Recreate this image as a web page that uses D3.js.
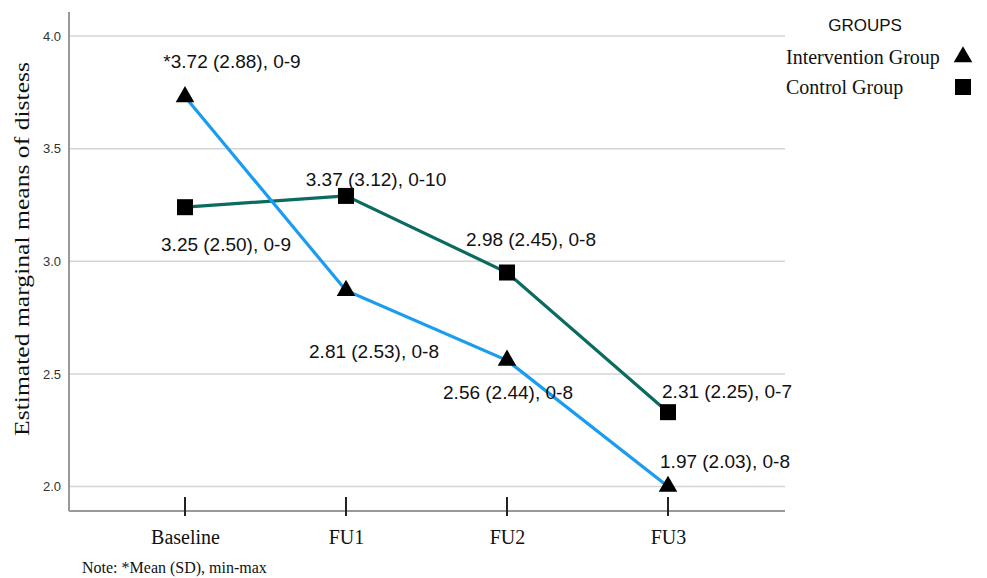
<!DOCTYPE html>
<html>
<head>
<meta charset="utf-8">
<script src="https://cdn.jsdelivr.net/npm/d3@7"></script>
<style>
  html, body { margin: 0; padding: 0; background: #fff; }
  svg { display: block; }
</style>
</head>
<body>
<svg id="chart" width="987" height="578"></svg>
<script>
// ---- data ----
const categories = ["Baseline", "FU1", "FU2", "FU3"];
const interventionMeans = [3.73, 2.87, 2.56, 2.00];   // plotted estimated marginal means
const controlMeans      = [3.24, 3.29, 2.95, 2.33];
const interventionLabels = ["*3.72 (2.88), 0-9", "2.81 (2.53), 0-8", "2.56 (2.44), 0-8", "1.97 (2.03), 0-8"];
const controlLabels      = ["3.25 (2.50), 0-9", "3.37 (3.12), 0-10", "2.98 (2.45), 0-8", "2.31 (2.25), 0-7"];
const yTicks = [2.0, 2.5, 3.0, 3.5, 4.0];
const seriesNames = ["Intervention Group", "Control Group"];

// ---- layout ----
const svg = d3.select("#chart");
const left = 69, right = 785, axisTop = 12, axisBottom = 511;
const x = d3.scalePoint().domain(categories).range([185, 668]);
const y = d3.scaleLinear().domain([2, 4]).range([486.5, 36]);

const sans = "'Liberation Sans', Arial, Helvetica, sans-serif";
const serif = "'Liberation Serif', 'Times New Roman', Times, serif";

// gridlines
svg.append("g").selectAll("line").data(yTicks).join("line")
  .attr("x1", left).attr("x2", right)
  .attr("y1", d => y(d)).attr("y2", d => y(d))
  .attr("stroke", "#d4d4d4").attr("stroke-width", 1.5);

// y axis
const yAxis = svg.append("g").attr("transform", `translate(${left},0)`)
  .call(d3.axisLeft(y).tickValues(yTicks).tickFormat(d3.format(".1f")).tickSize(0).tickPadding(8));
yAxis.select(".domain").remove();
yAxis.selectAll("text").attr("font-family", sans).attr("font-size", 13).attr("fill", "#333");
svg.append("line").attr("x1", left).attr("x2", left).attr("y1", axisTop).attr("y2", axisBottom)
  .attr("stroke", "#999").attr("stroke-width", 2);

// x axis
svg.append("line").attr("x1", left).attr("x2", right).attr("y1", axisBottom).attr("y2", axisBottom)
  .attr("stroke", "#999").attr("stroke-width", 2);
const xAxis = svg.append("g").attr("transform", `translate(0,${axisBottom})`)
  .call(d3.axisBottom(x).tickSize(0).tickPadding(19));
xAxis.select(".domain").remove();
xAxis.selectAll("text").attr("font-family", serif).attr("font-size", 20).attr("fill", "#111");
svg.append("g").selectAll("line").data(categories).join("line")
  .attr("x1", d => x(d)).attr("x2", d => x(d))
  .attr("y1", axisBottom - 14).attr("y2", axisBottom + 5)
  .attr("stroke", "#222").attr("stroke-width", 2);

// y axis title
svg.append("text")
  .attr("transform", "translate(29,249) rotate(-90)")
  .attr("text-anchor", "middle")
  .attr("font-family", serif).attr("font-size", 20).attr("fill", "#111")
  .attr("textLength", 374).attr("lengthAdjust", "spacingAndGlyphs")
  .text("Estimated marginal means of distess");

// lines
const line = d3.line().x((d, i) => x(categories[i])).y(d => y(d));
svg.append("path").datum(controlMeans).attr("d", line)
  .attr("fill", "none").attr("stroke", "#0b6b60").attr("stroke-width", 3.2);
svg.append("path").datum(interventionMeans).attr("d", line)
  .attr("fill", "none").attr("stroke", "#1a9cf0").attr("stroke-width", 3.2);

// markers
const tri = d3.symbol().type(d3.symbolTriangle).size(150);
svg.append("g").selectAll("path").data(interventionMeans).join("path")
  .attr("d", tri)
  .attr("transform", (d, i) => `translate(${x(categories[i])},${y(d)})`)
  .attr("fill", "#000");
const sq = 16;
svg.append("g").selectAll("rect").data(controlMeans).join("rect")
  .attr("x", (d, i) => x(categories[i]) - sq / 2)
  .attr("y", d => y(d) - sq / 2)
  .attr("width", sq).attr("height", sq)
  .attr("fill", "#000");

// value labels (offsets relative to each point)
const intOffsets = [[47, -35], [28, 61], [1, 32], [57, -25]];
const ctlOffsets = [[41, 37], [30, -17], [24, -33], [59, -21]];
function addLabels(values, labels, offsets) {
  svg.append("g").selectAll("text").data(values).join("text")
    .attr("x", (d, i) => x(categories[i]) + offsets[i][0])
    .attr("y", (d, i) => y(d) + offsets[i][1])
    .attr("dy", "0.35em")
    .attr("text-anchor", "middle")
    .attr("font-family", sans).attr("font-size", 19).attr("fill", "#111")
    .text((d, i) => labels[i]);
}
addLabels(interventionMeans, interventionLabels, intOffsets);
addLabels(controlMeans, controlLabels, ctlOffsets);

// legend
svg.append("text").attr("x", 865).attr("y", 25).attr("dy", "0.35em")
  .attr("text-anchor", "middle").attr("font-family", sans).attr("font-size", 17).attr("fill", "#111")
  .text("GROUPS");
const lg = svg.append("g");
seriesNames.forEach((name, i) => {
  const ly = 57 + i * 30;
  lg.append("text").attr("x", 786).attr("y", ly).attr("dy", "0.35em")
    .attr("font-family", serif).attr("font-size", 20).attr("fill", "#111").text(name);
  if (i === 0) {
    lg.append("path").attr("d", tri).attr("transform", `translate(963,${ly})`).attr("fill", "#000");
  } else {
    lg.append("rect").attr("x", 963 - sq / 2).attr("y", ly - sq / 2).attr("width", sq).attr("height", sq).attr("fill", "#000");
  }
});

// note
svg.append("text").attr("x", 82).attr("y", 573)
  .attr("font-family", serif).attr("font-size", 16).attr("fill", "#111")
  .text("Note: *Mean (SD), min-max");
</script>
</body>
</html>
